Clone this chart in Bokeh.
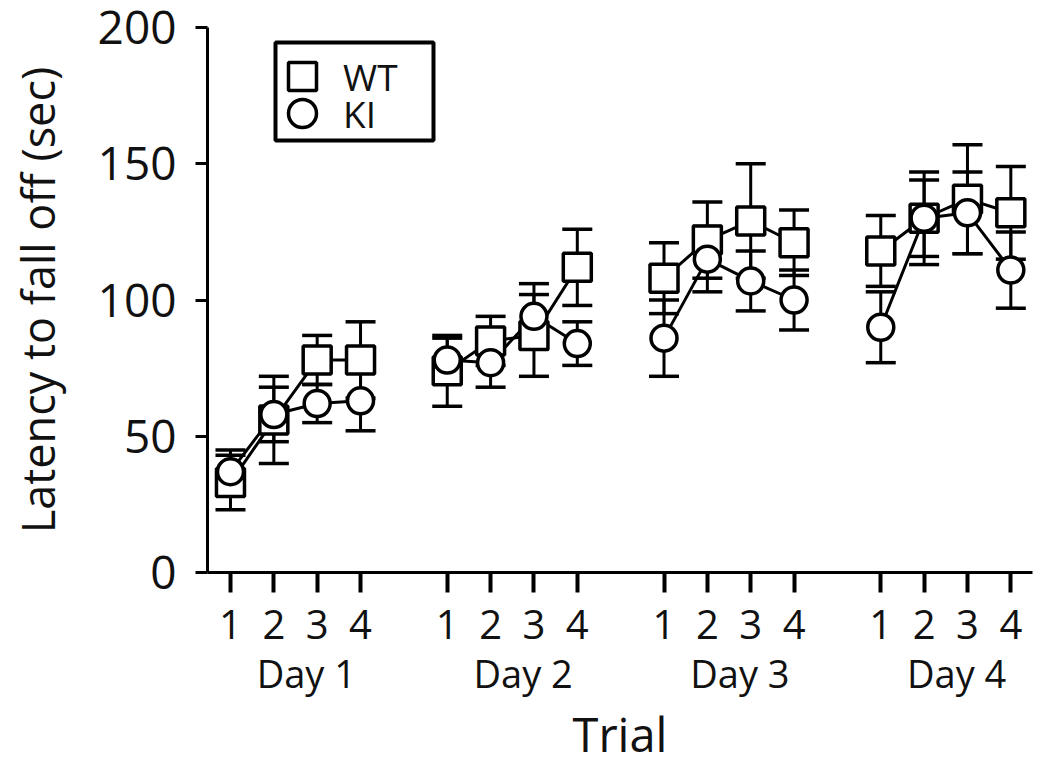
from bokeh.plotting import figure
from bokeh.models import (Range1d, FixedTicker, LinearAxis, Legend, LegendItem,
                          ColumnDataSource, BoxAnnotation)
from bokeh.embed import file_html
from bokeh.resources import INLINE

# ---------------- data ----------------
days = ["Day 1", "Day 2", "Day 3", "Day 4"]
trials = ["1", "2", "3", "4"]

wt_mean = [33, 56, 78, 78, 74, 85, 87, 112, 108, 122, 129, 121, 118, 130, 137, 132]
wt_err = [10, 16, 9, 14, 13, 9, 15, 14, 13, 14, 21, 12, 13, 17, 20, 17]
ki_mean = [37, 58, 62, 63, 78, 77, 94, 84, 86, 115, 107, 100, 90, 130, 132, 111]
ki_err = [8, 10, 7, 11, 8, 9, 12, 8, 14, 12, 11, 11, 13, 14, 15, 14]

y_ticks = [0, 50, 100, 150, 200]

FONT = "Open Sans"
INK = "#111111"
DAY_GAP = 5          # trial slots per day (4 trials + 1 gap)
DAY_LABEL_SHIFT = 0.25

# x positions: trials of each day grouped with a gap between days
pos = [1 + d * DAY_GAP + t for d in range(len(days)) for t in range(len(trials))]
tick_labels = {pos[d * 4 + t]: trials[t] for d in range(len(days)) for t in range(len(trials))}
day_centers = [1 + d * DAY_GAP + 1.5 + DAY_LABEL_SHIFT for d in range(len(days))]
day_labels = {c: days[i] for i, c in enumerate(day_centers)}


def gapped(xs, ys):
    ox, oy = [], []
    for i, (x, y) in enumerate(zip(xs, ys)):
        if i > 0 and i % 4 == 0:
            ox.append(float("nan"))
            oy.append(float("nan"))
        ox.append(x)
        oy.append(y)
    return ox, oy


def src(mean, err):
    return ColumnDataSource(dict(
        x=pos, y=mean,
        lo=[m - e for m, e in zip(mean, err)],
        hi=[m + e for m, e in zip(mean, err)],
    ))


wt_src = src(wt_mean, wt_err)
ki_src = src(ki_mean, ki_err)

p = figure(
    width=1050, height=769,
    x_range=Range1d(0.47, 19.5), y_range=Range1d(0, 200),
    x_axis_type=None, y_axis_type=None,
    output_backend="svg", toolbar_location=None,
    min_border_left=207, min_border_right=18, min_border_top=27, min_border_bottom=197,
)
p.outline_line_color = None
p.background_fill_color = "white"
p.border_fill_color = "white"

# error bars (drawn first so markers sit on top)
for s in (wt_src, ki_src):
    p.segment(x0="x", y0="lo", x1="x", y1="hi", source=s, line_color="black", line_width=3)
    p.scatter(x="x", y="lo", source=s, marker="dash", size=30, line_color="black", line_width=3.5)
    p.scatter(x="x", y="hi", source=s, marker="dash", size=30, line_color="black", line_width=3.5)

# connecting lines within each day
wx, wy = gapped(pos, wt_mean)
kx, ky = gapped(pos, ki_mean)
p.line(wx, wy, line_color="black", line_width=3)
p.line(kx, ky, line_color="black", line_width=3)

wt_r = p.scatter(x="x", y="y", source=wt_src, marker="square", size=28,
                 fill_color="white", line_color="black", line_width=3.5)
ki_r = p.scatter(x="x", y="y", source=ki_src, marker="circle", size=26,
                 fill_color="white", line_color="black", line_width=3.5)

# ---------------- axes ----------------
yaxis = LinearAxis(ticker=FixedTicker(ticks=y_ticks), axis_label="Latency to fall off (sec)")
yaxis.axis_line_width = 3
yaxis.major_tick_line_width = 3
yaxis.major_tick_out = 12
yaxis.major_tick_in = 0
yaxis.minor_tick_out = 0
yaxis.minor_tick_in = 0
yaxis.major_label_text_font = FONT
yaxis.major_label_text_font_size = "46px"
yaxis.major_label_text_color = INK
yaxis.major_label_standoff = 19
yaxis.axis_label_text_font = FONT
yaxis.axis_label_text_font_size = "45px"
yaxis.axis_label_text_font_style = "normal"
yaxis.axis_label_text_color = INK
yaxis.axis_label_standoff = 27
p.add_layout(yaxis, "left")

xaxis = LinearAxis(ticker=FixedTicker(ticks=pos), major_label_overrides=tick_labels)
xaxis.axis_line_width = 3
xaxis.major_tick_line_width = 4
xaxis.major_tick_out = 20
xaxis.major_tick_in = 0
xaxis.minor_tick_out = 0
xaxis.minor_tick_in = 0
xaxis.major_label_text_font = FONT
xaxis.major_label_text_font_size = "40px"
xaxis.major_label_text_color = INK
xaxis.major_label_standoff = 17
p.add_layout(xaxis, "below")

dayaxis = LinearAxis(ticker=FixedTicker(ticks=day_centers), major_label_overrides=day_labels,
                     axis_label="Trial")
dayaxis.axis_line_color = None
dayaxis.major_tick_line_color = None
dayaxis.minor_tick_line_color = None
dayaxis.major_tick_out = 0
dayaxis.major_tick_in = 0
dayaxis.major_label_text_font = FONT
dayaxis.major_label_text_font_size = "38px"
dayaxis.major_label_text_color = INK
dayaxis.major_label_standoff = 5
dayaxis.axis_label_text_font = FONT
dayaxis.axis_label_text_font_size = "47px"
dayaxis.axis_label_text_font_style = "normal"
dayaxis.axis_label_text_color = INK
dayaxis.axis_label_standoff = 0
p.add_layout(dayaxis, "below")

# ---------------- legend ----------------
p.add_layout(BoxAnnotation(
    left=68, right=226, bottom=432, top=530,
    left_units="screen", right_units="screen", bottom_units="screen", top_units="screen",
    fill_color="white", fill_alpha=1, line_color="black", line_alpha=1, line_width=4,
))


def one_item_legend(label, renderer, bottom):
    return Legend(
        items=[LegendItem(label=label, renderers=[renderer])],
        location=(60, bottom),
        glyph_width=70, glyph_height=70, spacing=0, padding=0, margin=0,
        label_standoff=6, label_height=20,
        label_text_font=FONT, label_text_font_size="37px", label_text_color=INK,
        border_line_alpha=0, background_fill_alpha=0,
    )


p.add_layout(one_item_legend("WT", wt_r, 461), "center")
p.add_layout(one_item_legend("KI", ki_r, 424), "center")

open("out.html", "w").write(file_html(p, INLINE))
